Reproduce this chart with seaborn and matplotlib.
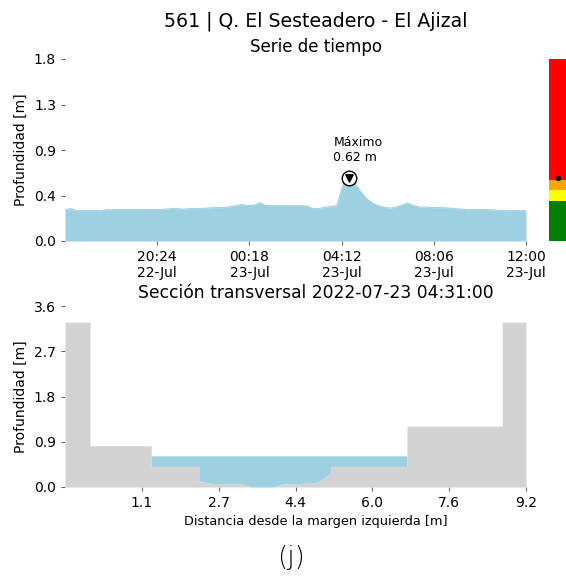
import numpy as np
import pandas as pd
import matplotlib
matplotlib.use("Agg")
import matplotlib.pyplot as plt
import matplotlib.dates as mdates
import seaborn as sns

# time series (15 min steps) - depth in m
t_start = "2022-07-22 16:30"
t_end = "2022-07-23 12:00"
depth = [0.31, 0.32, 0.30, 0.30, 0.30, 0.30, 0.30, 0.31, 0.31, 0.31,
         0.31, 0.31, 0.31, 0.31, 0.31, 0.31, 0.31, 0.315, 0.32, 0.32,
         0.315, 0.32, 0.32, 0.32, 0.325, 0.33, 0.33, 0.33, 0.34, 0.35,
         0.36, 0.35, 0.355, 0.38, 0.35, 0.35, 0.35, 0.35, 0.35, 0.35,
         0.35, 0.345, 0.32, 0.32, 0.335, 0.34, 0.35, 0.55, 0.62, 0.57,
         0.49, 0.42, 0.375, 0.35, 0.335, 0.325, 0.335, 0.355, 0.375, 0.35,
         0.335, 0.335, 0.33, 0.33, 0.33, 0.325, 0.32, 0.315, 0.31, 0.31,
         0.31, 0.31, 0.31, 0.305, 0.30, 0.30, 0.30, 0.30, 0.30]

# alert thresholds for the side bar
thr_bounds = [0.0, 0.40, 0.50, 0.60, 1.8]
thr_colors = ["green", "yellow", "orange", "red"]

# cross section (bed profile)
sec_x = [-0.48, 0.045, 0.045, 1.33, 1.33, 2.33, 2.33, 2.60, 3.20, 3.44,
         3.89, 4.10, 4.77, 4.88, 5.10, 5.10, 6.70, 6.70, 8.70, 8.70, 9.20]
sec_z = [3.28, 3.28, 0.82, 0.82, 0.41, 0.41, 0.12, 0.07, 0.07, 0.0,
         0.0, 0.06, 0.08, 0.12, 0.28, 0.41, 0.41, 1.21, 1.21, 3.28, 3.28]
water_level = 0.62

top_yticks = [0.0, 0.45, 0.9, 1.35, 1.8]
top_ylabels = ["0.0", "0.4", "0.9", "1.3", "1.8"]
bot_yticks = [0.0, 0.9, 1.8, 2.7, 3.6]
bot_xlabels = ["1.1", "2.7", "4.4", "6.0", "7.6", "9.2"]

water_c = "#9dd1e1"
bed_c = "lightgray"

sns.set_style("ticks")
plt.rcParams["font.family"] = ["DejaVu Sans"]
plt.rcParams.update({"text.color": "black", "axes.labelcolor": "black",
                     "xtick.color": "black", "ytick.color": "black"})

times = pd.date_range(t_start, t_end, freq="15min")
df = pd.DataFrame({"time": times, "depth": depth})

fig = plt.figure(figsize=(5.66, 5.76), dpi=100)
ax1 = fig.add_axes([65 / 566, 1 - 241 / 576, 461 / 566, 182 / 576])
axc = fig.add_axes([549 / 566, 1 - 241 / 576, 17 / 566, 182 / 576])
ax2 = fig.add_axes([65 / 566, 1 - 487 / 576, 461 / 566, 181 / 576])

# --- time series ---
sns.lineplot(data=df, x="time", y="depth", ax=ax1, color=water_c, lw=0.8)
ax1.fill_between(df["time"], 0, df["depth"], color=water_c, lw=0)
ax1.set_xlim(times[0], times[-1])
ax1.set_ylim(0, 1.8)
ax1.set_yticks(top_yticks)
ax1.set_yticklabels(top_ylabels)
xt = pd.date_range(t_start, t_end, periods=6)[1:]
ax1.set_xticks(xt)
ax1.xaxis.set_major_formatter(mdates.DateFormatter("%H:%M\n%d-%b"))
ax1.set_xlabel("")
ax1.set_ylabel("Profundidad [m]", fontsize=10)
ax1.tick_params(labelsize=10, length=3, color="0.4")

imax = int(np.argmax(depth))
tmax, dmax = times[imax], depth[imax]
ax1.scatter([tmax], [dmax], s=110, facecolor="white", edgecolor="black", lw=1, zorder=5)
ax1.scatter([tmax], [dmax], s=28, marker="v", color="black", zorder=6)
ax1.annotate("Máximo\n{:.2f} m".format(dmax), (tmax, dmax), xytext=(-11, 10),
             textcoords="offset points", ha="left", va="bottom", fontsize=9)
sns.despine(ax=ax1, left=True, bottom=True)

# --- alert bar ---
for i, c in enumerate(thr_colors):
    axc.bar(0.5, thr_bounds[i + 1] - thr_bounds[i], bottom=thr_bounds[i],
            width=1, color=c, lw=0)
axc.scatter([0.5], [dmax], s=8, color="black", zorder=5)
axc.set_xlim(0, 1)
axc.set_ylim(0, 1.8)
axc.set_xticks([])
axc.set_yticks([])
sns.despine(ax=axc, left=True, bottom=True)

# --- cross section ---
sx = np.array(sec_x)
sz = np.array(sec_z)
ax2.fill_between(sx, sz, water_level, where=sz < water_level, interpolate=True,
                 color=water_c, lw=0)
ax2.fill_between(sx, 0, sz, color=bed_c, lw=0)
ax2.set_xlim(sec_x[0], sec_x[-1])
ax2.set_ylim(0, 3.6)
ax2.set_yticks(bot_yticks)
ax2.set_yticklabels(["{:.1f}".format(v) for v in bot_yticks])
ax2.set_xticks(np.linspace(sec_x[0], sec_x[-1], 7)[1:])
ax2.set_xticklabels(bot_xlabels)
ax2.set_ylabel("Profundidad [m]", fontsize=10)
ax2.set_xlabel("Distancia desde la margen izquierda [m]", fontsize=9.3)
ax2.xaxis.set_label_coords((316 - 65) / 461, -0.155)
ax2.tick_params(labelsize=10, length=3, color="0.4")
sns.despine(ax=ax2, left=True, bottom=True)

# titles
fig.text(316 / 566, 1 - 21 / 576, "561 | Q. El Sesteadero - El Ajizal",
         ha="center", va="center", fontsize=13.6)
fig.text(316 / 566, 1 - 47 / 576, "Serie de tiempo", ha="center", va="center", fontsize=12)
fig.text(316 / 566, 1 - 293 / 576, "Sección transversal 2022-07-23 04:31:00",
         ha="center", va="center", fontsize=12.3)
fig.text(291 / 566, 1 - 557 / 576, "(j)", ha="center", va="center", fontsize=19,
         fontweight="light")

fig.savefig("out.png", dpi=100)
